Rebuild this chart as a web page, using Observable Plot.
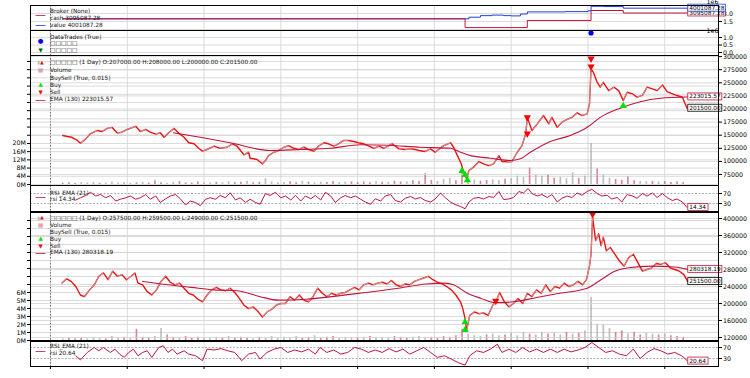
<!DOCTYPE html>
<html><head><meta charset="utf-8">
<script src="https://cdn.jsdelivr.net/npm/d3@7"></script>
<script src="https://cdn.jsdelivr.net/npm/@observablehq/plot@0.6"></script>
<style>
body{margin:0;background:#fff;}
#chart{position:relative;width:750px;height:378px;overflow:hidden;background:#fff;}
</style></head><body><div id="chart"></div>
<script>
// ---------- DATA (bar index -> values) ----------
const xTicks = [0,100,200,300,400,500,600,700,800];

// Broker (x1e6)
const cashIdx = [16, 540, 621, 704, 746, 830];
const cashVal = [2.0, 0.35, 1.7, 3.56, 3.095, 3.095];
const valueIdx = [16, 538, 545, 560, 575, 590, 600, 612, 621, 640, 670, 700, 704, 720, 746, 790, 830];
const valueVal = [2.0, 2.0, 2.3, 2.6, 2.7, 2.6, 2.55, 2.9, 3.3, 3.3, 3.35, 3.5, 4.35, 4.3, 4.0, 4.0, 4.0];
// DataTrades (x1e6)
const tradeIdx = [704];
const tradeVal = [1.3];

// Data 1 close (thousands)
const p1Idx = [16,22,28,35,39,46,52,61,67,74,80,87,93,100,111,117,124,130,137,143,148,154,161,167,174,180,187,193,198,204,213,221,230,237,243,252,258,260,269,276,280,284,291,297,304,310,317,323,330,336,343,349,356,362,369,375,382,388,395,401,408,415,421,428,434,441,445,454,462,471,480,488,495,501,512,521,525,530,535,538,542,545,551,558,564,571,577,584,588,595,601,608,614,619,621,624,627,634,642,649,653,660,666,673,679,686,692,699,702,704,707,712,716,720,727,734,740,746,751,758,764,771,777,784,790,797,803,810,816,823,829];
const p1Close = [149.4,147.5,146,140,134.7,143,152.6,159,157,163,165,154,155.7,160.9,167,157,161,155.7,152,154.6,146,154.6,163,154,146,135.5,133.6,125,119.5,122.7,129,125,127,133.6,129,112.6,117.5,106,103.6,95.4,101.7,111,117.5,120.8,127,130,125,122.7,127,122.7,119.5,129,135.5,133.6,129,133.6,140,140,138,135.5,133.6,129,125,129,125,130,133.6,124,122.7,124,120.8,118.9,124,117.5,130,135.5,127,111,95.4,79.4,67,82.6,89,99.8,95.4,92,95.4,111,99.8,99,99.8,117.5,130,152.6,184,171.7,159,171.7,187.6,171.7,184,165,174.8,180,184,192.7,187.6,190.8,210,276.7,270,251,241.6,251,235,241.6,235,216,232,229,222.5,226,241.6,238.5,235,246,233,229,225.7,222.5,201.5];
const ema1Idx = [160,195,234,286,326,365,404,440,482,521,534,547,573,599,612,625,651,677,699,716,742,768,794,831];
const ema1Val = [154.6,146,135.5,120.8,122.7,125,131.7,130.7,127,125,117.5,111,106,101.7,105,117.5,138,149.4,165,184,201.5,214,220.6,223.0];
const buy1Idx = [536,540,543,746];
const buy1Val = [82,74,64,206];
const sell1Idx = [621,621,704,704];
const sell1Val = [184,153,296,281];
// Volume (millions), one value every 8 bars from bar 16
const vol1 = [0.6,0.8,0.5,0.9,0.7,1.0,0.6,0.8,1.2,0.7,0.9,0.6,
  0.8,1.1,0.7,1.8,0.9,0.6,1.0,1.4,0.8,0.7,1.2,0.9,
  0.7,1.0,0.8,1.3,0.9,1.1,1.6,0.8,1.0,2.8,1.2,0.9,
  1.0,1.3,0.9,1.5,1.1,0.8,1.2,1.0,1.4,0.9,1.1,1.3,
  1.0,1.2,0.9,1.4,1.1,1.0,1.6,1.2,1.3,1.8,1.5,5.2,
  2.0,1.5,2.5,3.0,1.8,6.3,3.0,2.2,1.6,2.0,2.3,1.9,
  2.5,2.8,4.0,3.5,8.0,4.5,4.0,4.5,3.0,3.5,2.8,5.7,
  3.0,4.0,20.0,7.6,4.5,3.0,2.5,2.0,3.6,1.8,1.5,1.3,
  1.5,1.2,1.4,1.0,1.2,0.9];
const rsi1Idx = [33,39,46,52,59,65,72,78,85,91,98,104,111,117,124,130,137,143,150,156,163,169,176,182,189,195,202,208,215,221,228,234,241,247,254,260,267,273,280,286,293,300,306,313,319,326,332,339,345,352,358,365,371,378,384,391,397,404,410,417,423,430,436,443,449,456,462,469,475,482,488,495,501,508,514,521,527,534,540,545,551,558,564,571,577,584,590,597,603,610,616,622,627,634,640,647,653,660,666,673,679,686,692,699,705,712,718,725,731,738,744,751,758,764,771,777,784,790,797,803,810,816,823,829];
const rsi1 = [44,53,62,75,60,66,53,62,40,47,53,60,47,53,66,47,60,34,49,60,66,49,24,40,34,21,47,53,47,62,53,73,44,53,34,47,34,27,70,62,75,53,60,44,62,40,60,49,62,44,75,60,34,53,62,53,60,47,36,27,49,40,60,66,42,36,51,58,48,54,42,36,48,72,54,36,26,18,9,36,51,54,48,58,54,78,46,48,54,78,72,90,70,60,66,54,66,36,51,60,54,72,63,78,87,70,60,63,48,54,36,66,60,51,70,60,72,54,70,54,42,48,36,14.34];

// Data 2 close (thousands)
const p2Idx = [15,21,27,33,39,44,51,57,63,69,75,81,87,93,99,105,110,114,120,126,132,138,144,150,156,162,168,174,180,186,192,198,204,210,216,222,228,234,240,246,252,258,264,270,276,282,288,294,300,306,312,318,324,330,336,342,348,354,360,366,372,378,384,390,396,402,408,414,420,426,432,438,444,450,456,462,468,474,480,486,492,498,504,510,516,522,528,534,537,540,542,546,552,558,564,570,576,580,585,591,597,603,609,615,621,627,633,639,645,651,657,663,669,675,681,687,693,698,702,704,706,710,714,717,720,724,729,735,741,747,753,759,765,771,777,783,789,795,801,807,813,819,825,830];
const p2Close = [248,258,252,240,220,216,232,244,264,272,256,276,264,268,256,264,272,248,244,228,220,232,252,264,250,244,248,236,224,220,210,204,220,232,238,232,230,236,226,212,196,188,192,182,168,180,186,196,200,200,216,208,220,208,204,216,236,224,216,224,220,224,226,232,238,232,244,248,244,248,250,246,254,244,240,246,244,252,256,260,264,256,250,246,240,232,220,204,188,164,136,172,180,176,178,172,196,204,226,204,192,200,212,200,224,216,232,224,244,228,240,236,248,240,244,252,244,256,288,316,404,348,364,336,356,324,332,316,300,288,308,316,296,276,280,284,294,292,296,284,280,276,268,251.5];
const ema2Idx = [120,153,183,213,243,273,297,333,393,453,489,513,525,543,561,579,603,633,663,699,717,735,753,783,813,830];
const ema2Val = [252,244,238,232,230,216,208,210,222,236,246,248,244,224,212,202,204,214,224,236,256,276,284,288,286,280.3];
const buy2Idx = [540,540];
const buy2Val = [156,138];
const sell2Idx = [580,706];
const sell2Val = [206,410];
const vol2 = [0.2,0.3,0.2,0.3,0.2,0.4,0.3,0.2,0.5,0.3,0.4,0.3,
  1.4,0.4,0.3,0.5,1.5,0.7,0.4,0.3,0.5,0.3,0.4,0.3,
  0.3,0.4,0.3,0.5,0.3,0.4,0.3,0.2,0.4,0.3,0.5,0.3,
  0.4,0.3,0.5,0.3,0.4,0.6,0.3,0.4,0.5,0.3,0.4,0.3,
  0.3,0.4,0.5,0.3,0.4,0.3,0.5,0.4,0.3,0.4,0.5,0.3,
  0.4,0.3,0.5,0.4,0.6,1.4,0.8,0.6,0.5,0.7,0.8,0.6,
  0.7,0.9,0.6,1.0,0.8,0.7,1.0,0.8,0.9,0.7,1.0,0.8,
  0.9,1.2,5.4,2.0,1.9,1.5,1.0,1.2,0.8,1.0,0.7,0.9,
  0.8,0.7,0.8,0.6,0.5,0.4];
const rsi2Idx = [33,39,48,57,63,69,78,84,90,96,102,108,114,120,126,132,141,147,153,159,165,174,180,189,198,204,213,222,231,240,249,258,267,273,282,291,300,309,318,327,336,345,351,360,369,378,387,396,405,414,423,432,441,450,459,468,477,486,495,504,513,522,531,540,546,555,564,573,582,588,597,606,615,624,633,642,651,660,669,678,687,696,705,714,723,732,741,750,759,768,777,786,795,804,813,822,830];
const rsi2 = [40,25,52,70,58,70,52,64,46,34,52,64,40,52,58,34,70,76,52,64,46,58,46,40,22,64,61,66,58,52,22,46,52,28,52,64,70,52,61,54,64,46,70,52,61,46,52,70,64,52,61,52,66,54,64,46,58,70,52,34,40,28,15,6,40,58,52,64,82,52,64,52,70,54,64,52,64,52,64,54,61,70,88,70,52,58,46,40,64,30,52,66,58,46,52,40,20.64];

const legend1 = "\u25A1\u25A1\u25A1\u25A1\u25A1 (1 Day) O:207000.00 H:208000.00 L:200000.00 C:201500.00";
const legend2 = "\u25A1\u25A1\u25A1\u25A1\u25A1 (1 Day) O:257500.00 H:259500.00 L:249000.00 C:251500.00";

// ---------- helpers ----------
const chart = document.getElementById("chart");
const W = 750, ML = 30, MR = 32, XD = [-26, 870];
const FONT = "DejaVu Sans, sans-serif";
const CRIM = "#c0143c", UPC = "#b8b8b8", DOWNC = "#ee1111", GRID = "#d2d2d2";

const zip = (a, b) => a.map((x, i) => ({i: x, v: b[i]}));
const zipK = (a, b) => a.map((x, i) => ({i: x, v: b[i] * 1000}));
function segs(rows) {
  return d3.pairs(rows).map(([a, b]) => ({x1: a.i, y1: a.v, x2: b.i, y2: b.v, up: b.v >= a.v}));
}
function volRows(vals, priceRows) {
  return vals.map((v, k) => {
    const i = 16 + 8 * k;
    let j = priceRows.findIndex(r => r.i >= i);
    if (j <= 0) j = 1;
    const up = priceRows[j].v >= priceRows[j - 1].v;
    return {i, v, up};
  });
}
function panel(top, height, yDomain, marks) {
  const svg = Plot.plot({
    width: W, height, marginLeft: ML, marginRight: MR, marginTop: 0, marginBottom: 0,
    x: {domain: XD, axis: null}, y: {domain: yDomain, axis: null},
    style: {background: "transparent", overflow: "visible", fontFamily: FONT, fontSize: "6.3px", color: "black"},
    marks
  });
  svg.style.position = "absolute"; svg.style.top = top + "px"; svg.style.left = "0px";
  chart.appendChild(svg);
}
const leg = (t, dy) => Plot.text([t], {frameAnchor: "top-left", dx: 19.5, dy, textAnchor: "start", lineAnchor: "middle", fontSize: 5.8, fill: "#111"});
const glyph = (t, dx, dy, fill, size) => Plot.text([t], {frameAnchor: "top-left", dx, dy, textAnchor: "middle", lineAnchor: "middle", fontSize: size, fill});
const lineIcon = (dy, color) => glyph("\u2014", 10, dy, color, 11);
function boxLabel(xv, yv, text, color) {
  return (index, scales) => {
    const g = d3.create("svg:g");
    const x = scales.x(xv) + 0.5, y = scales.y(yv);
    const w = text.length * 3.45 + 3, h = 7;
    g.append("rect").attr("x", x).attr("y", y - h / 2).attr("width", w).attr("height", h)
      .attr("fill", "white").attr("stroke", color).attr("stroke-width", 0.8);
    g.append("text").attr("x", x + 1.5).attr("y", y).attr("dy", "0.35em").attr("font-size", 5.8)
      .attr("text-anchor", "start").attr("fill", "black").text(text);
    return g.node();
  };
}
const gx = () => Plot.gridX(xTicks, {stroke: GRID, strokeOpacity: 1, strokeWidth: 0.8});
const dash0 = () => Plot.ruleX([0], {stroke: "#555", strokeDasharray: "1.5,1.5", strokeWidth: 0.8});
const rightAxis = (ticks, fmt) => Plot.axisY(ticks, {anchor: "right", label: null, tickSize: 3, tickPadding: 1.5, tickFormat: fmt, fontSize: 6.3, textAnchor: "start"});
const leftAxis = (ticks, fmt) => Plot.axisY(ticks, {anchor: "left", label: null, tickSize: 3, tickPadding: 1.5, tickFormat: fmt, fontSize: 6.3});
const frame = () => Plot.frame({stroke: "#000", strokeWidth: 1});
// price drawn as red base line with grey "up" strokes on top
const priceMarks = rows => [
  Plot.line(rows, {x: "i", y: "v", stroke: DOWNC, strokeWidth: 1.4}),
  Plot.link(segs(rows).filter(d => d.up), {x1: "x1", y1: "y1", x2: "x2", y2: "y2", stroke: UPC, strokeWidth: 0.8})
];

// ---------- Panel 1: Broker ----------
const cashRows = zip(cashIdx, cashVal), valueRows = zip(valueIdx, valueVal);
panel(5, 25, [-0.19, 4.5], [
  gx(), dash0(),
  Plot.gridY([0, 1.5, 3.0], {stroke: GRID, strokeOpacity: 1, strokeWidth: 0.8}),
  Plot.line(valueRows, {x: "i", y: "v", stroke: "#1f3fd8", strokeWidth: 1, curve: "step-after"}),
  Plot.line(cashRows, {x: "i", y: "v", stroke: CRIM, strokeWidth: 1, curve: "step-after"}),
  rightAxis([1.5, 3.0], d => d.toFixed(1)),
  Plot.text(["1e6"], {frameAnchor: "top-right", dx: 0, dy: -5.5, textAnchor: "end", fontSize: 6.3}),
  lineIcon(9.3, CRIM), leg("Broker (None)", 6), leg("cash 3095087.28", 12.5),
  lineIcon(19.3, "#1f3fd8"), leg("value 4001087.28", 19.3),
  boxLabel(830, 3.095, "3095087.28", CRIM),
  boxLabel(830, 4.0, "4001087.28", "#1f3fd8"),
  frame()
]);

// ---------- Panel 2: DataTrades ----------
panel(30, 25, [-0.2, 1.467], [
  gx(), dash0(),
  Plot.gridY([0, 0.5, 1.0], {stroke: GRID, strokeOpacity: 1, strokeWidth: 0.8}),
  Plot.dot(zip(tradeIdx, tradeVal), {x: "i", y: "v", r: 2.6, fill: "#0000ee", stroke: "none"}),
  rightAxis([0, 0.5, 1.0], d => d.toFixed(1)),
  Plot.text(["1e6"], {frameAnchor: "top-right", dx: 0, dy: -1.5, textAnchor: "end", fontSize: 6.3}),
  leg("DataTrades (True)", 6.7),
  glyph("\u25CF", 10, 10.7, "#0000ee", 6.5), leg("\u25A1\u25A1\u25A1\u25A1\u25A1", 12.3),
  glyph("\u25BC", 10, 19.5, "#006400", 5.5), leg("\u25A1\u25A1\u25A1\u25A1\u25A1", 20),
  frame()
]);

// ---------- Panel 3: Data 1 ----------
const p1Rows = zipK(p1Idx, p1Close);
const vol1Rows = volRows(vol1, p1Rows);
const volTicks1 = d3.range(0, 61, 4);
panel(55, 130, [-0.5, 62.9], [
  gx(), dash0(),
  Plot.gridY(volTicks1, {stroke: GRID, strokeOpacity: 1, strokeWidth: 0.8}),
  Plot.ruleX(vol1Rows, {x: "i", y1: 0, y2: "v", stroke: d => d.up ? "#aaaaaa" : "#cc6073", strokeOpacity: 0.75, strokeWidth: 1.7}),
  leftAxis(volTicks1, d => d <= 20 ? d + "M" : "")
]);
const pTicks1 = d3.range(75000, 300001, 25000);
panel(55, 130, [54000, 302100], [
  Plot.gridY(pTicks1, {stroke: GRID, strokeOpacity: 1, strokeWidth: 0.8}),
  ...priceMarks(p1Rows),
  Plot.line(zipK(ema1Idx, ema1Val), {x: "i", y: "v", stroke: CRIM, strokeWidth: 1.1, curve: "monotone-x"}),
  Plot.dot(zipK(buy1Idx, buy1Val), {x: "i", y: "v", symbol: "triangle", r: 2.7, fill: "#00e000", stroke: "none"}),
  Plot.dot(zipK(sell1Idx, sell1Val), {x: "i", y: "v", symbol: "triangle", rotate: 180, r: 2.7, fill: "#ff0000", stroke: "none"}),
  rightAxis(pTicks1, d => String(d)),
  glyph("\u25AE", 8, 7, UPC, 5), glyph("\u25B2", 11.5, 6.5, DOWNC, 5),
  leg(legend1, 7),
  glyph("\u25A6", 10, 15, "#d98c99", 6), leg("Volume", 15),
  leg("BuySell (True, 0.015)", 22.5),
  glyph("\u25B2", 10, 29, "#00e000", 5.5), leg("Buy", 29.5),
  glyph("\u25BC", 10, 37, "#ff0000", 5.5), leg("Sell", 36.5),
  lineIcon(44, CRIM), leg("EMA (130) 223015.57", 44),
  boxLabel(830, 223015.57, "223015.57", CRIM),
  boxLabel(830, 201500, "201500.00", "#000"),
  frame()
]);

// ---------- Panel 4: RSI 1 ----------
panel(185, 26, [-2, 102], [
  gx(), dash0(),
  Plot.ruleY([30, 70], {stroke: "#999", strokeDasharray: "2,1.5", strokeWidth: 0.8}),
  Plot.line(zip(rsi1Idx, rsi1), {x: "i", y: "v", stroke: CRIM, strokeWidth: 1}),
  rightAxis([30, 70], d => String(d)),
  lineIcon(10.7, CRIM), leg("RSI_EMA (21)", 7.3), leg("rsi 14.34", 14),
  boxLabel(830, 14.34, "14.34", CRIM),
  frame()
]);

// ---------- Panel 5: Data 2 ----------
const p2Rows = zipK(p2Idx, p2Close);
const vol2Rows = volRows(vol2, p2Rows);
const volTicks2 = d3.range(0, 16, 1);
panel(212, 128, [0, 16], [
  gx(), dash0(),
  Plot.gridY(volTicks2, {stroke: GRID, strokeOpacity: 1, strokeWidth: 0.8}),
  Plot.ruleX(vol2Rows, {x: "i", y1: 0, y2: "v", stroke: d => d.up ? "#aaaaaa" : "#cc6073", strokeOpacity: 0.75, strokeWidth: 1.7}),
  leftAxis(volTicks2, d => d <= 6 ? d + "M" : "")
]);
const pTicks2 = d3.range(120000, 400001, 40000);
panel(212, 128, [112941, 414118], [
  Plot.gridY(pTicks2, {stroke: GRID, strokeOpacity: 1, strokeWidth: 0.8}),
  ...priceMarks(p2Rows),
  Plot.line(zipK(ema2Idx, ema2Val), {x: "i", y: "v", stroke: CRIM, strokeWidth: 1.1, curve: "monotone-x"}),
  Plot.dot(zipK(buy2Idx, buy2Val), {x: "i", y: "v", symbol: "triangle", r: 2.7, fill: "#00e000", stroke: "none"}),
  Plot.dot(zipK(sell2Idx, sell2Val), {x: "i", y: "v", symbol: "triangle", rotate: 180, r: 2.7, fill: "#ff0000", stroke: "none"}),
  rightAxis(pTicks2, d => String(d)),
  glyph("\u25AE", 8, 5.5, UPC, 5), glyph("\u25B2", 11.5, 5, DOWNC, 5),
  leg(legend2, 5.5),
  glyph("\u25A6", 10, 13, "#d98c99", 6), leg("Volume", 13),
  leg("BuySell (True, 0.015)", 20),
  glyph("\u25B2", 10, 26, "#00e000", 5.5), leg("Buy", 26.5),
  glyph("\u25BC", 10, 34, "#ff0000", 5.5), leg("Sell", 33.5),
  lineIcon(40, CRIM), leg("EMA (130) 280318.19", 40),
  boxLabel(830, 280318.19, "280318.19", CRIM),
  boxLabel(830, 251500, "251500.00", "#000"),
  frame()
]);

// ---------- Panel 6: RSI 2 ----------
panel(341, 25, [0.9, 91.8], [
  gx(), dash0(),
  Plot.ruleY([30, 70], {stroke: "#999", strokeDasharray: "2,1.5", strokeWidth: 0.8}),
  Plot.line(zip(rsi2Idx, rsi2), {x: "i", y: "v", stroke: CRIM, strokeWidth: 1}),
  rightAxis([30, 70], d => String(d)),
  Plot.axisX(xTicks, {anchor: "bottom", label: null, tickSize: 3, tickFormat: () => ""}),
  lineIcon(8.5, CRIM), leg("RSI_EMA (21)", 5), leg("rsi 20.64", 11.5),
  boxLabel(830, 20.64, "20.64", CRIM),
  frame()
]);
</script></body></html>
